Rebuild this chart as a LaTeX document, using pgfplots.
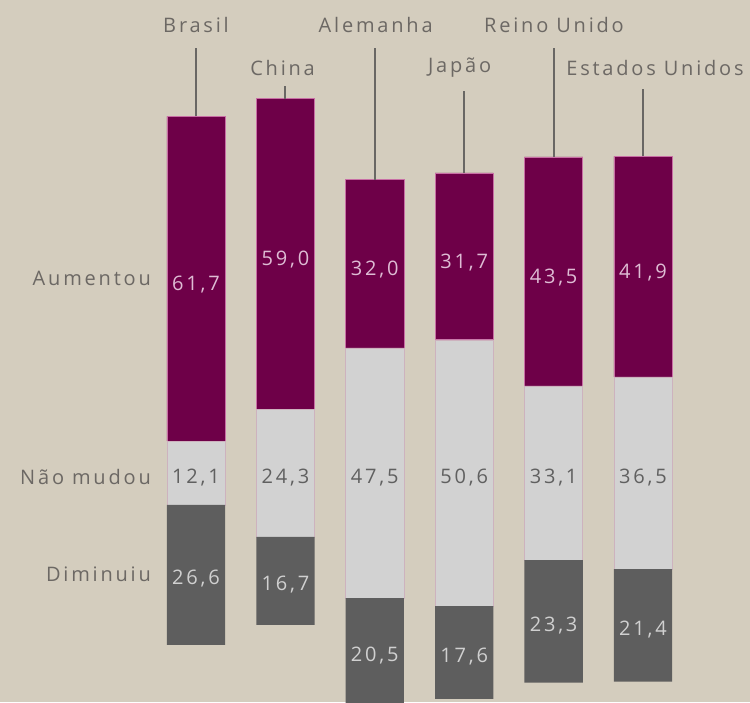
\documentclass[border=0pt]{standalone}
\usepackage{pgfplots}
\pgfplotsset{compat=1.18}
\usepackage{pgfplotstable}
\usepackage{fontspec}
\setmainfont[LetterSpace=14]{Open Sans}
\definecolor{bg}{RGB}{212,205,190}
\definecolor{aumC}{RGB}{110,0,72}
\definecolor{nmC}{RGB}{210,210,210}
\definecolor{dimC}{RGB}{94,94,94}
\definecolor{txtC}{RGB}{108,104,100}
\definecolor{lineC}{RGB}{105,103,100}
\definecolor{aumtxt}{RGB}{222,188,212}
\definecolor{nmtxt}{RGB}{96,96,96}
\definecolor{dimtxt}{RGB}{208,208,208}
\definecolor{aumedge}{RGB}{200,110,165}
\definecolor{nmedge}{RGB}{205,178,190}

% y axis shifted by +50: the middle of "Nao mudou" sits at 50
% off = 50 - nm/2 - dim (invisible base of each bar)
\pgfplotstableread{
x off aum nm dim
0 17.35 61.7 12.1 26.6
1 21.15 59.0 24.3 16.7
2 5.75 32.0 47.5 20.5
3 7.10 31.7 50.6 17.6
4 10.15 43.5 33.1 23.3
5 10.35 41.9 36.5 21.4
}\data

\begin{document}
\begin{tikzpicture}
\pgfplotsset{
  base/.style={
    width=750pt, height=702pt, scale only axis,
    xmin=-2.1924, xmax=6.1969, ymin=6.49, ymax=139.87,
    hide axis, clip=true,
    at={(0,0)}, anchor=south west,
  }
}
\fill[bg] (0,0) rectangle (750pt,702pt);
\useasboundingbox (0,0) rectangle (750pt,702pt);
\begin{axis}[base, ybar stacked, bar width=0.652]
\addplot[draw=none, fill=none] table[x=x, y=off] {\data};
\addplot[fill=dimC, draw=none] table[x=x, y=dim] {\data};
\addplot[fill=nmC, draw=nmedge, line width=0.6pt] table[x=x, y=nm] {\data};
\addplot[fill=aumC, draw=aumedge, line width=0.7pt] table[x=x, y=aum] {\data};
\end{axis}
\begin{axis}[base,
  /pgf/number format/.cd, use comma, fixed, fixed zerofill, precision=1, assume math mode=true]
\addplot[only marks, mark=none, nodes near coords, point meta=explicit,
  nodes near coords style={anchor=center, yshift=-6pt, text=aumtxt, font=\fontsize{20}{24}\selectfont}]
  table[x=x, y expr=50+\thisrow{nm}/2+\thisrow{aum}/2, meta=aum] {\data};
\addplot[only marks, mark=none, nodes near coords, point meta=explicit,
  nodes near coords style={anchor=center, yshift=-5pt, text=nmtxt, font=\fontsize{20}{24}\selectfont}]
  table[x=x, y expr=50, meta=nm] {\data};
\addplot[only marks, mark=none, nodes near coords, point meta=explicit,
  nodes near coords style={anchor=center, yshift=-4pt, text=dimtxt, font=\fontsize{20}{24}\selectfont}]
  table[x=x, y expr=50-\thisrow{nm}/2-\thisrow{dim}/2, meta=dim] {\data};
% leader lines
\addplot[lineC, line width=2pt] coordinates {(0,117.75) (0,130.75)};
\addplot[lineC, line width=2pt] coordinates {(1,121.15) (1,123.53)};
\addplot[lineC, line width=2pt] coordinates {(2,105.75) (2,130.75)};
\addplot[lineC, line width=2pt] coordinates {(3,107.0) (3,122.58)};
\addplot[lineC, line width=2pt] coordinates {(4,110.05) (4,130.75)};
\addplot[lineC, line width=2pt] coordinates {(5,110.15) (5,122.96)};
% country names
\begin{scope}[every node/.style={text=txtC, font=\fontsize{20}{24}\selectfont, inner sep=0pt}]
\node at (axis cs:0,135.12) {Brasil};
\node at (axis cs:0.968,126.95) {China};
\node at (axis cs:2.01,135.12) {Alemanha};
\node at (axis cs:2.9485,126.95) {Japão};
\node at (axis cs:4.0045,135.12) {Reino Unido};
\node at (axis cs:5.134,126.95) {Estados Unidos};
\node[anchor=east] at (axis cs:-0.5034,87.05) {Aumentou};
\node[anchor=east] at (axis cs:-0.5034,49.24) {Não mudou};
\node[anchor=east] at (axis cs:-0.5034,30.81) {Diminuiu};
\end{scope}
\end{axis}
\end{tikzpicture}
\end{document}
